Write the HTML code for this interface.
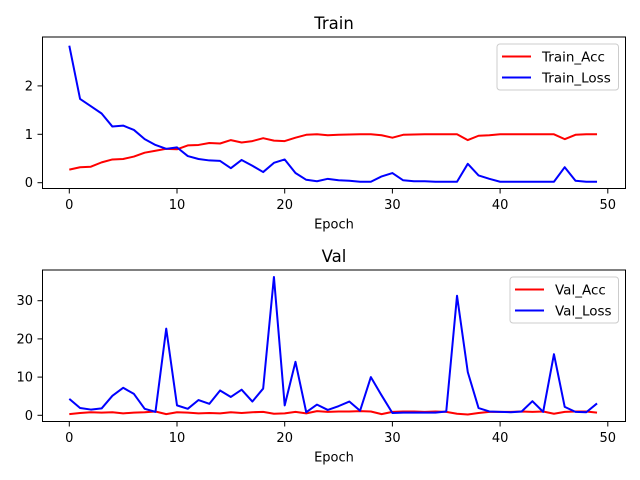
<!DOCTYPE html>
<html><head><meta charset="utf-8"><style>
body{margin:0;background:#fff}
svg{display:block;font-family:"DejaVu Sans","Liberation Sans",sans-serif}
</style></head><body>
<svg id="c" width="640" height="480"></svg>
<script>
const epochs = Array.from({length:50},(_,i)=>i);
const trainAcc = [0.27,0.32,0.33,0.42,0.48,0.49,0.54,0.62,0.66,0.70,0.69,0.77,0.78,0.82,0.81,0.88,0.83,0.86,0.92,0.87,0.86,0.93,0.99,1.0,0.98,0.99,0.995,1.0,1.0,0.98,0.93,0.99,0.995,1.0,1.0,1.0,1.0,0.88,0.97,0.98,1.0,1.0,1.0,1.0,1.0,1.0,0.90,0.99,1.0,1.0];
const trainLoss = [2.83,1.73,1.58,1.43,1.16,1.18,1.09,0.90,0.78,0.70,0.73,0.55,0.49,0.46,0.45,0.30,0.47,0.35,0.22,0.41,0.48,0.20,0.06,0.03,0.08,0.05,0.04,0.02,0.02,0.13,0.20,0.05,0.03,0.03,0.02,0.02,0.02,0.39,0.15,0.08,0.02,0.02,0.02,0.02,0.02,0.02,0.32,0.04,0.02,0.02];
const valAcc = [0.3,0.6,0.8,0.7,0.8,0.5,0.7,0.8,1.0,0.3,0.8,0.7,0.5,0.6,0.5,0.8,0.6,0.8,0.9,0.4,0.5,0.9,0.5,1.1,0.9,1.0,1.0,1.1,1.0,0.3,0.9,1.0,1.0,0.9,1.0,0.9,0.4,0.2,0.6,0.9,0.9,0.9,1.0,0.9,1.0,0.4,0.9,1.0,1.0,0.7];
const valLoss = [4.3,1.9,1.5,1.8,5.1,7.2,5.6,1.7,0.9,22.7,2.6,1.7,4.0,3.0,6.5,4.8,6.7,3.6,7.0,36.2,2.6,14,0.8,2.8,1.4,2.4,3.6,1.2,10,5.2,0.6,0.7,0.7,0.7,0.7,1.0,31.3,11.3,1.9,1.0,0.9,0.8,1.0,3.7,0.9,16,2.2,0.9,0.8,3.1];
const xTicks = [0,10,20,30,40,50];
const topTicks = [0,1,2];
const botTicks = [0,10,20,30];

const svg=document.getElementById('c');
const NS='http://www.w3.org/2000/svg';
function mk(tag,attrs,parent){const e=document.createElementNS(NS,tag);for(const k in attrs)e.setAttribute(k,attrs[k]);(parent||svg).appendChild(e);return e;}
const L=42.5,R=625.5;
const xs=v=>69.3+v*10.77;

function panel(name,top,bottom,y0,yscale,yt,s1,s2,n1,n2,title,leg){
  const g=mk('g',{});
  
  
  const ys=v=>y0-v*yscale;
  const fr=mk('rect',{x:L,y:top,width:R-L,height:bottom-top,fill:'none',stroke:'#000','stroke-width':1},g);
  
  
  xTicks.forEach(t=>{
    const x=xs(t);
    mk('line',{x1:x,y1:bottom,x2:x,y2:bottom+5,stroke:'#000'},g);
    const tx=mk('text',{x:x,y:bottom+20.5,'font-size':13,'text-anchor':'middle'},g);tx.textContent=t;
    
    
  });
  yt.forEach(t=>{
    const y=ys(t);
    mk('line',{x1:L-5,y1:y,x2:L,y2:y,stroke:'#000'},g);
    const tx=mk('text',{x:L-9.5,y:y+4.5,'font-size':13,'text-anchor':'end'},g);tx.textContent=t;
    
    
  });
  [[s1,'#ff0000',n1],[s2,'#0000ff',n2]].forEach(([s,c,n])=>{
    const p=mk('polyline',{points:s.map((v,i)=>xs(epochs[i])+','+ys(v)).join(' '),fill:'none',stroke:c,'stroke-width':2,'stroke-linejoin':'round'},g);
    
    
  });
  const ti=mk('text',{x:(L+R)/2,y:top-8,'font-size':16.5,'text-anchor':'middle'},g);ti.textContent=title;
  
  
  const xl=mk('text',{x:(L+R)/2,y:bottom+40,'font-size':13,'text-anchor':'middle'},g);xl.textContent='Epoch';
  
  
  const lg=mk('g',{},g);
  
  
  mk('rect',{x:leg[0],y:top+7,width:R-7-leg[0],height:46,rx:3,fill:'#fff',stroke:'#ccc'},lg);
  [[n1,'#ff0000'],[n2,'#0000ff']].forEach(([n,c],i)=>{
    const y=top+19.5+i*21;
    mk('line',{x1:leg[0]+5,y1:y,x2:leg[0]+34,y2:y,stroke:c,'stroke-width':2},lg);
    const t=mk('text',{x:leg[0]+45,y:y+5,'font-size':13.5},lg);t.textContent=n;
    
    
  });
}
panel('train',37,188.5,182.7,48.4,topTicks,trainAcc,trainLoss,'Train_Acc','Train_Loss','Train',[497]);
panel('val',270,421.5,415.3,3.82,botTicks,valAcc,valLoss,'Val_Acc','Val_Loss','Val',[510]);
</script>
</body></html>
